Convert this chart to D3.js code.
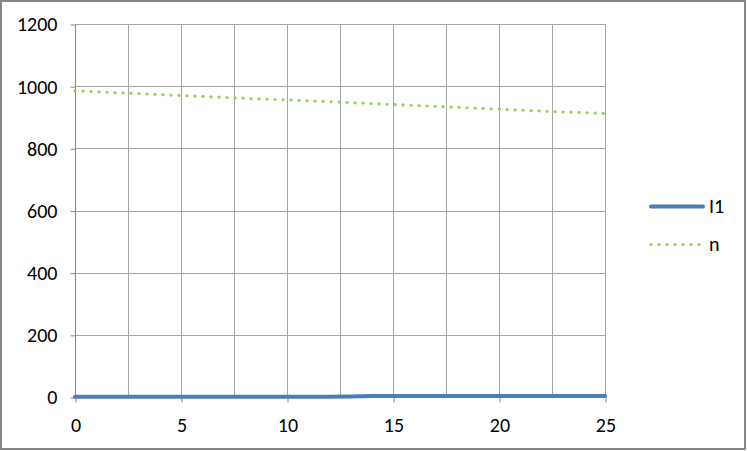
<!DOCTYPE html>
<html><head><meta charset="utf-8">
<script src="https://cdn.jsdelivr.net/npm/d3@7"></script>
<style>
html,body{margin:0;padding:0;background:#fff;}
svg{display:block;}
text{font-family:Carlito,Calibri,Lato,"Open Sans",sans-serif;fill:#000;}
</style></head>
<body>
<svg id="c" width="747" height="451"></svg>
<script>
const xValues = [0,1,2,3,4,5,6,7,8,9,10,11,12,13,14,15,16,17,18,19,20,21,22,23,24,25];
const seriesI1 = [1,1,1,1,1,1,1,1,1,1,1,1,1,2,3,3,3,3,3,3,3,3,3,3,3,3];
const seriesN = [985,982,979,976,973,970,967,964,961,958,956,953,950,947,944,941,938,935,932,929,926,923,920,917,915,912];
const yTicks = [0,200,400,600,800,1000,1200];
const xTicks = [0,5,10,15,20,25];
const xGrid = [0,2.5,5,7.5,10,12.5,15,17.5,20,22.5,25];
const seriesNames = ["I1","n"];

const svg = d3.select("#c");
const W = 747, H = 451;
const m = {l:75, r:605, t:24, b:397};
const FS = 20;
const x = d3.scaleLinear().domain([0,25]).range([m.l, m.r]);
const y = d3.scaleLinear().domain([0,1200]).range([m.b, m.t]);

svg.append("rect").attr("x",1).attr("y",1).attr("width",W-3).attr("height",H-3)
  .attr("fill","#fff").attr("stroke","#868686").attr("stroke-width",2);

const grid = "#a6a6a6";
svg.append("g").selectAll("line").data(yTicks).join("line")
  .attr("x1",m.l).attr("x2",m.r)
  .attr("y1",d=>Math.round(y(d))+0.5).attr("y2",d=>Math.round(y(d))+0.5)
  .attr("stroke",grid).attr("stroke-width",1);
svg.append("g").selectAll("line").data(xGrid).join("line")
  .attr("y1",m.t).attr("y2",m.b)
  .attr("x1",d=>Math.round(x(d))+0.5).attr("x2",d=>Math.round(x(d))+0.5)
  .attr("stroke",grid).attr("stroke-width",1);

const ya = svg.append("g").attr("transform",`translate(${m.l+0.5},0.5)`)
  .call(d3.axisLeft(y).tickValues(yTicks).tickSize(5).tickPadding(13).tickFormat(d3.format("d")));
ya.select(".domain").attr("stroke","#868686").attr("d",`M0,${m.t}V${m.b}`);
ya.selectAll(".tick line").attr("stroke","#868686");
ya.selectAll(".tick text").attr("font-size",FS).attr("font-family","Carlito,Calibri,Lato,sans-serif").attr("fill","#000");

const xa = svg.append("g").attr("transform",`translate(0.5,${m.b+0.5})`)
  .call(d3.axisBottom(x).tickValues(xTicks).tickSize(5).tickPadding(15));
xa.select(".domain").attr("stroke","#868686").attr("d",`M${m.l},0H${m.r}`);
xa.selectAll(".tick line").attr("stroke","#868686");
xa.selectAll(".tick text").attr("font-size",FS).attr("font-family","Carlito,Calibri,Lato,sans-serif").attr("fill","#000");

const line = d3.line().x((d,i)=>x(xValues[i])).y(d=>y(d));
svg.append("path").datum(seriesI1).attr("d",line)
  .attr("fill","none").attr("stroke","#4a7ebb").attr("stroke-width",4).attr("stroke-linecap","round");
svg.append("path").datum(seriesN).attr("d",line)
  .attr("fill","none").attr("stroke","#92d050").attr("stroke-width",3.2)
  .attr("stroke-linecap","round").attr("stroke-dasharray","0.01 8");

const lg = svg.append("g");
lg.append("line").attr("x1",651).attr("x2",703).attr("y1",206.5).attr("y2",206.5)
  .attr("stroke","#4a7ebb").attr("stroke-width",4).attr("stroke-linecap","round");
lg.append("line").attr("x1",651).attr("x2",700).attr("y1",244.5).attr("y2",244.5)
  .attr("stroke","#92d050").attr("stroke-width",3.2).attr("stroke-linecap","round").attr("stroke-dasharray","0.01 8");
lg.append("text").attr("x",709).attr("y",213).attr("font-size",FS).text(seriesNames[0]);
lg.append("text").attr("x",709).attr("y",251).attr("font-size",FS).text(seriesNames[1]);
</script>
</body></html>
